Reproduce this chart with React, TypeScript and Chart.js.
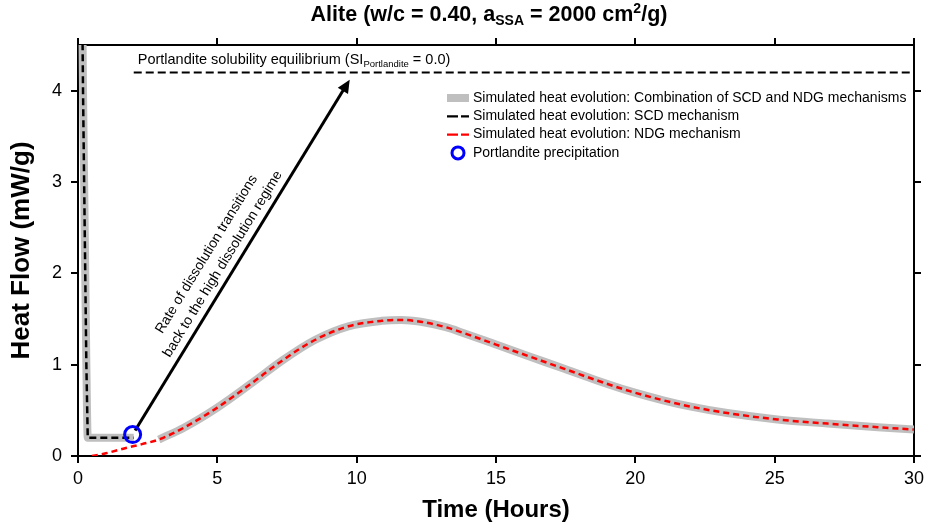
import React, { useEffect, useRef } from "react";
import { Chart, registerables } from "chart.js";

Chart.register(...registerables);

// ---------- data ----------
const xTicks = [0, 5, 10, 15, 20, 25, 30];
const yTicks = [0, 1, 2, 3, 4];

// SCD mechanism (black dashed)
const scdTime = [0.15, 0.18, 0.22, 0.26, 0.3, 0.35, 0.7, 1.2, 1.6, 2.0];
const scdHeat = [5.0, 4.0, 3.0, 2.0, 1.0, 0.2, 0.2, 0.2, 0.2, 0.2];

// NDG mechanism (red dashed)
const ndgTime = [0.5, 1.0, 1.75, 2.3, 2.9, 3.8, 5.0, 6.2, 7.35, 8.5, 9.7, 10.9, 11.6, 12.3, 13.2, 13.8, 15.0, 16.2, 17.4, 18.6, 19.8, 21.0, 22.0, 23.3, 25.1, 26.9, 28.7, 30.0];
const ndgHeat = [0.0, 0.03, 0.09, 0.13, 0.18, 0.31, 0.53, 0.79, 1.05, 1.27, 1.42, 1.48, 1.49, 1.47, 1.41, 1.35, 1.22, 1.09, 0.96, 0.83, 0.71, 0.61, 0.54, 0.47, 0.4, 0.355, 0.315, 0.29];

// Combination curve follows SCD up to portlandite precipitation, then NDG from this time
const combNdgStart = 2.9;

// Portlandite solubility equilibrium line
const eqTime = [2.0, 30.0];
const eqHeat = [4.2, 4.2];

// Portlandite precipitation point
const precipTime = [1.96];
const precipHeat = [0.235];

// Arrow (from precipitation point to equilibrium line)
const arrowFrom = [2.05, 0.28];
const arrowTo = [9.75, 4.12];

const legendLabels = [
  "Simulated heat evolution: Combination of SCD and NDG mechanisms",
  "Simulated heat evolution: SCD mechanism",
  "Simulated heat evolution: NDG mechanism",
  "Portlandite precipitation",
];

const FONT = "'Liberation Sans', Arial, sans-serif";
const GRAY = "#bfbfbf";

const pts = (xs: number[], ys: number[]) => xs.map((x, i) => ({ x, y: ys[i] }));

function drawSegments(
  ctx: CanvasRenderingContext2D,
  x: number,
  y: number,
  segs: { t: string; size: number; dy: number; bold?: boolean }[],
  align: "left" | "center"
) {
  let total = 0;
  for (const s of segs) {
    ctx.font = `${s.bold ? "bold " : ""}${s.size}px ${FONT}`;
    total += ctx.measureText(s.t).width;
  }
  let cx = align === "center" ? x - total / 2 : x;
  ctx.textAlign = "left";
  ctx.textBaseline = "alphabetic";
  for (const s of segs) {
    ctx.font = `${s.bold ? "bold " : ""}${s.size}px ${FONT}`;
    ctx.fillText(s.t, cx, y + s.dy);
    cx += ctx.measureText(s.t).width;
  }
}

const annotationPlugin = {
  id: "annotations",
  beforeDatasetsDraw(chart: any) {
    const { ctx, scales } = chart;
    const xs = scales.x, ys = scales.y;
    const x0 = xs.getPixelForValue(arrowFrom[0]);
    const y0 = ys.getPixelForValue(arrowFrom[1]);
    const x1 = xs.getPixelForValue(arrowTo[0]);
    const y1 = ys.getPixelForValue(arrowTo[1]);
    const dx = x1 - x0, dy = y1 - y0;
    const len = Math.hypot(dx, dy);
    const ux = dx / len, uy = dy / len;
    const head = 13, hw = 6;
    ctx.save();
    ctx.strokeStyle = "#000";
    ctx.fillStyle = "#000";
    ctx.lineWidth = 3;
    ctx.beginPath();
    ctx.moveTo(x0, y0);
    ctx.lineTo(x1 - ux * head * 0.8, y1 - uy * head * 0.8);
    ctx.stroke();
    ctx.beginPath();
    ctx.moveTo(x1, y1);
    ctx.lineTo(x1 - ux * head - uy * hw, y1 - uy * head + ux * hw);
    ctx.lineTo(x1 - ux * head + uy * hw, y1 - uy * head - ux * hw);
    ctx.closePath();
    ctx.fill();

    // rotated text along the arrow
    const mx = (x0 + x1) / 2, my = (y0 + y1) / 2;
    const nx = uy, ny = -ux; // left/up normal
    const angle = Math.atan2(uy, ux);
    const lines = [
      { t: "Rate of dissolution transitions", off: 31 },
      { t: "back to the high dissolution regime", off: 12 },
    ];
    ctx.font = `14px ${FONT}`;
    ctx.textAlign = "center";
    ctx.textBaseline = "middle";
    for (const l of lines) {
      const cx = mx + nx * l.off - ux * 18;
      const cy = my + ny * l.off - uy * 18;
      ctx.save();
      ctx.translate(cx, cy);
      ctx.rotate(angle);
      ctx.fillText(l.t, 0, 0);
      ctx.restore();
    }

    // equilibrium label
    const lx = xs.getPixelForValue(eqTime[0]) + 4;
    const ly = ys.getPixelForValue(eqHeat[0]) - 8;
    drawSegments(
      ctx,
      lx,
      ly,
      [
        { t: "Portlandite solubility equilibrium (SI", size: 14.5, dy: 0 },
        { t: "Portlandite", size: 9.5, dy: 3 },
        { t: " = 0.0)", size: 14.5, dy: 0 },
      ],
      "left"
    );
    ctx.restore();
  },
  afterDraw(chart: any) {
    const { ctx, chartArea } = chart;
    ctx.save();
    ctx.fillStyle = "#000";
    // title
    const tx = (chartArea.left + chartArea.right) / 2 - 7;
    drawSegments(
      ctx,
      tx,
      21,
      [
        { t: "Alite (w/c = 0.40, a", size: 21.5, dy: 0, bold: true },
        { t: "SSA", size: 14, dy: 4, bold: true },
        { t: " = 2000 cm", size: 21.5, dy: 0, bold: true },
        { t: "2", size: 14, dy: -8, bold: true },
        { t: "/g)", size: 21.5, dy: 0, bold: true },
      ],
      "center"
    );

    // legend
    const lx = chartArea.left + 369;
    const ly = chartArea.top + 53;
    const rowH = 18.3;
    ctx.font = `14px ${FONT}`;
    ctx.textAlign = "left";
    ctx.textBaseline = "middle";
    legendLabels.forEach((lab, i) => {
      const y = ly + i * rowH;
      ctx.save();
      if (i === 0) {
        ctx.strokeStyle = GRAY;
        ctx.lineWidth = 8;
        ctx.beginPath();
        ctx.moveTo(lx, y);
        ctx.lineTo(lx + 22, y);
        ctx.stroke();
      } else if (i === 1 || i === 2) {
        ctx.strokeStyle = i === 1 ? "#000" : "#ff0000";
        ctx.lineWidth = 2.2;
        ctx.setLineDash([11, 3]);
        ctx.beginPath();
        ctx.moveTo(lx, y);
        ctx.lineTo(lx + 22, y);
        ctx.stroke();
      } else {
        ctx.strokeStyle = "#0000ff";
        ctx.lineWidth = 3;
        ctx.beginPath();
        ctx.arc(lx + 11, y, 6, 0, Math.PI * 2);
        ctx.stroke();
      }
      ctx.restore();
      ctx.fillText(lab, lx + 26, y);
    });
    ctx.restore();
  },
};

const tickFont = { family: FONT, size: 18 };

function axisCommon(min: number, max: number, ticks: number[]) {
  return {
    type: "linear" as const,
    min,
    max,
    afterBuildTicks: (s: any) => {
      s.ticks = ticks.map((v) => ({ value: v }));
    },
    grid: { drawOnChartArea: false, drawTicks: true, tickLength: 7, color: "#000", lineWidth: 2 },
    border: { display: true, color: "#000", width: 2 },
  };
}

export default function App() {
  const ref = useRef<HTMLCanvasElement | null>(null);
  useEffect(() => {
    if (!ref.current) return;
    const combData = [
      ...pts(scdTime, scdHeat),
      { x: (scdTime[scdTime.length - 1] + combNdgStart) / 2, y: null as any },
      ...pts(ndgTime, ndgHeat).filter((p) => p.x >= combNdgStart),
    ];
    const chart = new Chart(ref.current, {
      type: "line",
      data: {
        datasets: [
          {
            label: "Portlandite precipitation",
            data: pts(precipTime, precipHeat),
            showLine: false,
            pointStyle: "circle",
            pointRadius: 8,
            pointBorderWidth: 3,
            pointBorderColor: "#0000ff",
            pointBackgroundColor: "rgba(0,0,0,0)",
            order: 0,
          } as any,
          {
            label: "NDG",
            data: pts(ndgTime, ndgHeat),
            borderColor: "#ff0000",
            borderWidth: 2.5,
            borderDash: [6, 4],
            pointRadius: 0,
            cubicInterpolationMode: "monotone",
            fill: false,
            order: 1,
          },
          {
            label: "SCD",
            data: pts(scdTime, scdHeat),
            borderColor: "#000",
            borderWidth: 2.5,
            borderDash: [7, 4],
            pointRadius: 0,
            tension: 0,
            fill: false,
            order: 2,
          },
          {
            label: "Equilibrium",
            data: pts(eqTime, eqHeat),
            borderColor: "#000",
            borderWidth: 2,
            borderDash: [8, 4],
            pointRadius: 0,
            fill: false,
            order: 3,
          },
          {
            label: "Combination",
            data: combData,
            borderColor: GRAY,
            borderWidth: 8,
            pointRadius: 0,
            cubicInterpolationMode: "monotone",
            spanGaps: false,
            fill: false,
            order: 4,
          },
        ],
      },
      options: {
        animation: false,
        responsive: false,
        maintainAspectRatio: false,
        layout: { padding: 0 },
        plugins: {
          legend: { display: false },
          title: { display: false },
          tooltip: { enabled: false },
        },
        scales: {
          x: {
            ...axisCommon(0, 30, xTicks),
            position: "bottom",
            ticks: { font: tickFont, color: "#000", padding: 5, maxRotation: 0, autoSkip: false },
            title: {
              display: true,
              text: "Time (Hours)",
              color: "#000",
              font: { family: FONT, size: 24, weight: "bold" },
              padding: { top: 0, bottom: 3 },
            },
            afterFit: (s: any) => {
              s.height = 72;
            },
          },
          x2: {
            ...axisCommon(0, 30, xTicks),
            position: "top",
            ticks: { display: false },
            afterFit: (s: any) => {
              s.height = 45;
            },
          },
          y: {
            ...axisCommon(0, 4.5, yTicks),
            position: "left",
            ticks: { font: tickFont, color: "#000", padding: 9, autoSkip: false },
            title: {
              display: true,
              text: "Heat Flow (mW/g)",
              color: "#000",
              font: { family: FONT, size: 26, weight: "bold" },
              padding: { top: 6, bottom: 0 },
            },
            afterFit: (s: any) => {
              s.width = 78;
            },
          },
          y2: {
            ...axisCommon(0, 4.5, yTicks),
            position: "right",
            ticks: { display: false },
            afterFit: (s: any) => {
              s.width = 12;
            },
          },
        } as any,
      },
      plugins: [annotationPlugin],
    });
    return () => chart.destroy();
  }, []);

  return (
    <div style={{ position: "absolute", left: 0, top: 0, width: 929, height: 528, background: "#fff" }}>
      <canvas ref={ref} width={929} height={528} style={{ width: 929, height: 528, display: "block" }} />
    </div>
  );
}
